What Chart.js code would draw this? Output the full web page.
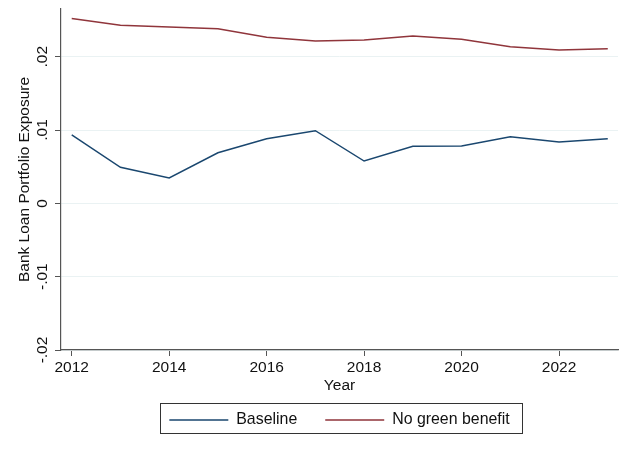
<!DOCTYPE html>
<html>
<head>
<meta charset="utf-8">
<script src="https://cdn.jsdelivr.net/npm/chart.js@4.4.1/dist/chart.umd.min.js"></script>
<style>
    html, body { margin: 0; padding: 0; background: #fff; }
    #wrap { width: 637px; height: 453px; }
</style>
</head>
<body>
<div id="wrap"><canvas id="chart"></canvas></div>
<script>
const years = [2012, 2013, 2014, 2015, 2016, 2017, 2018, 2019, 2020, 2021, 2022, 2023];
const baseline = [0.00932, 0.00491, 0.00345, 0.00690, 0.00881, 0.00990, 0.00577, 0.00778, 0.00782, 0.00909, 0.00836, 0.00881];
const noGreenBenefit = [0.02520, 0.02428, 0.02405, 0.02382, 0.02265, 0.02214, 0.02228, 0.02282, 0.02237, 0.02136, 0.02091, 0.02109];
const xTicks = [2012, 2014, 2016, 2018, 2020, 2022];
const yTicks = [-0.02, -0.01, 0, 0.01, 0.02];
const yTickLabels = ["-.02", "-.01", "0", ".01", ".02"];

const FONT = "'Liberation Sans', Arial, Helvetica, sans-serif";
const TEXT = "#111";
const AXIS = "#555";

const toPoints = vals => years.map((y, i) => ({ x: y, y: vals[i] }));

// rotated y tick labels + box round the legend, like Stata draws them
const stataBits = {
    id: "stataBits",
    afterLayout(chart) {
        const lg = chart.legend;
        const ca = chart.chartArea;
        const w = lg.right - lg.left;
        const mid = (ca.left + ca.right) / 2;
        lg.left = mid - w / 2;
        lg.right = mid + w / 2;
        const h = lg.bottom - lg.top;
        lg.top = 384;
        lg.bottom = lg.top + h;
    },
    afterDraw(chart) {
        const ctx = chart.ctx;
        const s = chart.scales.y;
        ctx.save();
        ctx.fillStyle = TEXT;
        ctx.font = "15.5px " + FONT;
        ctx.textAlign = "center";
        ctx.textBaseline = "middle";
        yTicks.forEach((v, i) => {
            ctx.save();
            ctx.translate(s.right - 18.5, s.getPixelForValue(v));
            ctx.rotate(-Math.PI / 2);
            ctx.fillText(yTickLabels[i], 0, 0);
            ctx.restore();
        });
        const hb = chart.legend.legendHitBoxes;
        if (hb && hb.length) {
            const last = hb[hb.length - 1];
            const left = hb[0].left - 9;
            const right = last.left + last.width + 13;
            const top = hb[0].top - 9;
            const bottom = hb[0].top + 20.5;
            ctx.strokeStyle = "#333";
            ctx.lineWidth = 1;
            ctx.strokeRect(Math.round(left) + 0.5, Math.round(top) + 0.5, Math.round(right - left), Math.round(bottom - top));
        }
        ctx.restore();
    }
};

const ctx = document.getElementById("chart");
const chartConfig = {
    type: "line",
    data: {
        datasets: [{
            label: "Baseline",
            data: toPoints(baseline),
            borderColor: "#1a476f",
            backgroundColor: "#1a476f",
            borderWidth: 1.5,
            pointRadius: 0,
            tension: 0,
        }, {
            label: "No green benefit",
            data: toPoints(noGreenBenefit),
            borderColor: "#90353b",
            backgroundColor: "#90353b",
            borderWidth: 1.5,
            pointRadius: 0,
            tension: 0,
        }]
    },
    options: {
        responsive: true,
        maintainAspectRatio: false,
        animation: false,
        layout: {
            padding: { top: 9, right: 19, bottom: 13, left: 0 }
        },
        plugins: {
            tooltip: { enabled: false },
            legend: {
                position: "bottom",
                maxHeight: 45,
                labels: {
                    boxWidth: 59,
                    boxHeight: 0,
                    padding: 28,
                    color: TEXT,
                    font: { family: FONT, size: 15.9 },
                }
            }
        },
        scales: {
            x: {
                type: "linear",
                min: 2011.78,
                max: 2023.21,
                afterBuildTicks: s => { s.ticks = xTicks.map(v => ({ value: v })); },
                afterFit: s => { s.height = 45; },
                ticks: {
                    padding: 2,
                    color: TEXT,
                    font: { family: FONT, size: 15.5 },
                    maxRotation: 0,
                    callback: v => String(v),
                },
                grid: {
                    color: "rgba(0,0,0,0)",
                    tickColor: AXIS,
                    tickLength: 6,
                },
                border: { color: AXIS, width: 1.2 },
                title: {
                    display: true,
                    text: "Year",
                    color: TEXT,
                    font: { family: FONT, size: 15.5 },
                    padding: { top: 0, bottom: 0 },
                }
            },
            y: {
                min: -0.02,
                max: 0.0265,
                afterBuildTicks: s => { s.ticks = yTicks.map(v => ({ value: v })); },
                afterFit: s => { s.width = 61; },
                ticks: { display: false },
                grid: {
                    color: "#eaf2f3",
                    tickColor: AXIS,
                    tickLength: 6,
                },
                border: { color: AXIS, width: 1.2 },
                title: {
                    display: true,
                    text: "Bank Loan Portfolio Exposure",
                    color: TEXT,
                    font: { family: FONT, size: 15.5 },
                    padding: { top: 15.7, bottom: 0 },
                }
            }
        }
    },
    plugins: [stataBits]
};
let chart = new Chart(ctx, chartConfig);
</script>
</body>
</html>
